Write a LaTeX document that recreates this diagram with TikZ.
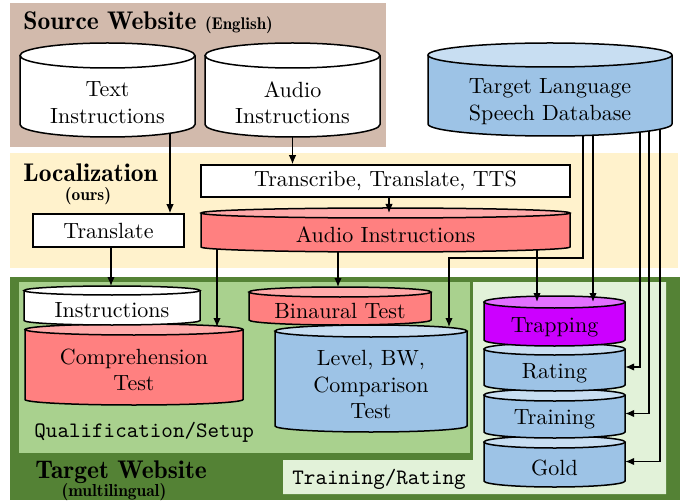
\documentclass[tikz,border=0pt]{standalone}
\usetikzlibrary{arrows.meta}

\definecolor{srcbg}{RGB}{210,186,172}
\definecolor{locbg}{RGB}{255,242,204}
\definecolor{tgtbg}{RGB}{84,130,53}
\definecolor{qualbg}{RGB}{169,209,142}
\definecolor{ratebg}{RGB}{226,242,217}
\definecolor{redbody}{RGB}{255,128,128}
\definecolor{redend}{RGB}{255,170,170}
\definecolor{bluebody}{RGB}{157,195,230}
\definecolor{blueend}{RGB}{200,222,242}
\definecolor{purpbody}{RGB}{204,0,255}
\definecolor{purpend}{RGB}{226,112,255}

\tikzset{
  outline/.style={draw=black, line width=1.5pt},
  conn/.style={draw=black, line width=1.3pt},
  arr/.style={conn, -{Latex[length=9pt,width=7.5pt]}},
  big/.style={font=\fontsize{10}{12}\selectfont},
  title/.style={font=\fontsize{11.6}{13.5}\fontseries{b}\selectfont, anchor=base west},
  sub/.style={font=\fontsize{7.9}{9.2}\fontseries{b}\selectfont, anchor=base},
  mono/.style={font=\fontsize{10}{12}\selectfont\ttfamily, anchor=base west},
  boxnode/.style={outline, fill=white, inner sep=0pt},
}

% text label set at 10pt and enlarged: options, name, x, y, text
\newcommand\lbl[5][]{%
  \begin{scope}[shift={(#3,#4)}, scale=2.2, transform shape]
    \node[big, #1, inner sep=0pt] (#2) at (0,0) {#5};
  \end{scope}%
}

% database cylinder: name, centre x, half width, top y, bottom y, ellipse radius,
% body colour, lid colour, label
\newcommand\cyl[9]{%
  \filldraw[outline, fill=#7] (#2-#3,#4+#6) -- (#2-#3,#5-#6)
    arc[start angle=180, end angle=360, x radius=#3pt, y radius=#6pt] -- (#2+#3,#4+#6);
  \filldraw[outline, fill=#8] (#2,#4+#6) ellipse [x radius=#3pt, y radius=#6pt];
  \node[inner sep=0pt, minimum width={2*#3pt}, minimum height={(#5-#4)*1pt}] (#1) at (#2,{(#4+#5)/2}) {};
  \lbl[align=center]{#1-t}{#2}{{(#4+2*#6+#5)/2}}{#9}%
}

\begin{document}
\begin{tikzpicture}[x=1pt, y=-1pt]
\useasboundingbox (0,0) rectangle (684,502);
\fill[white] (0,0) rectangle (684,502);

% stage backgrounds
\fill[srcbg] (10,3) rectangle (386,147);
\fill[locbg] (10,153) rectangle (678,268);
\fill[tgtbg] (10,277) rectangle (680,500);
\fill[ratebg] (473,282) -- (666,282) -- (666,494) -- (283,494) -- (283,460) -- (473,460) -- cycle;
\fill[qualbg] (19,282) rectangle (470,453);

% stage titles
\lbl[title]{srcT}{23}{30}{Source Website {\fontsize{7.7}{9}\selectfont (English)}}
\lbl[title]{locT}{23}{182}{Localization}
\lbl[sub]{locS}{88}{201}{(ours)}
\lbl[title]{tgtT}{35}{478}{Target Website}
\lbl[sub]{tgtS}{114}{496}{(multilingual)}
\lbl[mono]{qualT}{34}{437}{Qualification/Setup}
\lbl[mono]{rateT}{292}{484}{Training/Rating}

% source material
\cyl{txt}{107.5}{87.5}{43}{137}{12.5}{white}{white}{Text\\Instructions}
\cyl{aud}{292.5}{87.5}{43}{137}{12.5}{white}{white}{Audio\\Instructions}
\cyl{db}{550}{122}{43}{136}{12}{bluebody}{blueend}{Target Language\\Speech Database}

% localization
\node[boxnode, minimum width=369pt, minimum height=32pt] (tts) at (385.5,181) {};
\lbl{tts-t}{385.5}{181}{Transcribe, Translate, TTS}
\node[boxnode, minimum width=151pt, minimum height=33pt] (trans) at (108.5,230.5) {};
\lbl{trans-t}{108.5}{230.5}{Translate}
\cyl{audr}{385.5}{184.5}{208}{252}{5}{redbody}{redend}{Audio Instructions}

% qualification
\cyl{comp}{134}{109}{324}{405}{5.5}{redbody}{redend}{Comprehension\\Test}
\cyl{inst}{112}{88}{286}{325}{4.5}{white}{white}{Instructions}
\cyl{lvl}{371}{96}{325}{432}{6}{bluebody}{blueend}{Level, BW,\\Comparison\\Test}
\cyl{bin}{340}{91}{287}{325}{5}{redbody}{redend}{Binaural Test}

% training / rating stack
\cyl{gold}{554.5}{70.5}{436}{487}{6}{bluebody}{blueend}{Gold}
\cyl{train}{554.5}{70.5}{389}{438}{6}{bluebody}{blueend}{Training}
\cyl{rate}{554.5}{70.5}{343}{391}{6}{bluebody}{blueend}{Rating}
\cyl{trap}{554.5}{70.5}{296}{346}{6}{purpbody}{purpend}{Trapping}

% connector end points on the cylinder outlines
\coordinate (outTxt) at (170,133);
\coordinate (inAudr) at (389,213);
\coordinate (inInst) at (111,286);
\coordinate (outA1) at (217,249);
\coordinate (inComp) at (217,327);
\coordinate (inBin) at (338,287);
\coordinate (outA3) at (537,250);
\coordinate (inTrap1) at (537,302);
\coordinate (outD1) at (583,136);
\coordinate (inLvl) at (449,327);
\coordinate (outD2) at (593,135);
\coordinate (inTrap2) at (593,302);
\coordinate (outD3) at (640,132);
\coordinate (outD4) at (649,131);
\coordinate (outD5) at (660,129);

% connectors
\draw[arr] (outTxt) -- (outTxt |- trans.north);
\draw[arr] (aud.south) -- (tts.north -| aud.south);
\draw[arr] (tts.south -| inAudr) -- (inAudr);
\draw[arr] (trans.south -| inInst) -- (inInst);
\draw[arr] (outA1) -- (inComp);
\draw[arr] (audr.south -| inBin) -- (inBin);
\draw[arr] (outA3) -- (inTrap1);
\draw[arr] (outD1) -- ++(0,122) -| (inLvl);
\draw[arr] (outD2) -- (inTrap2);
\draw[arr] (outD3) |- (rate.east);
\draw[arr] (outD4) |- (train.east);
\draw[arr] (outD5) |- (gold.east);
\end{tikzpicture}
\end{document}
